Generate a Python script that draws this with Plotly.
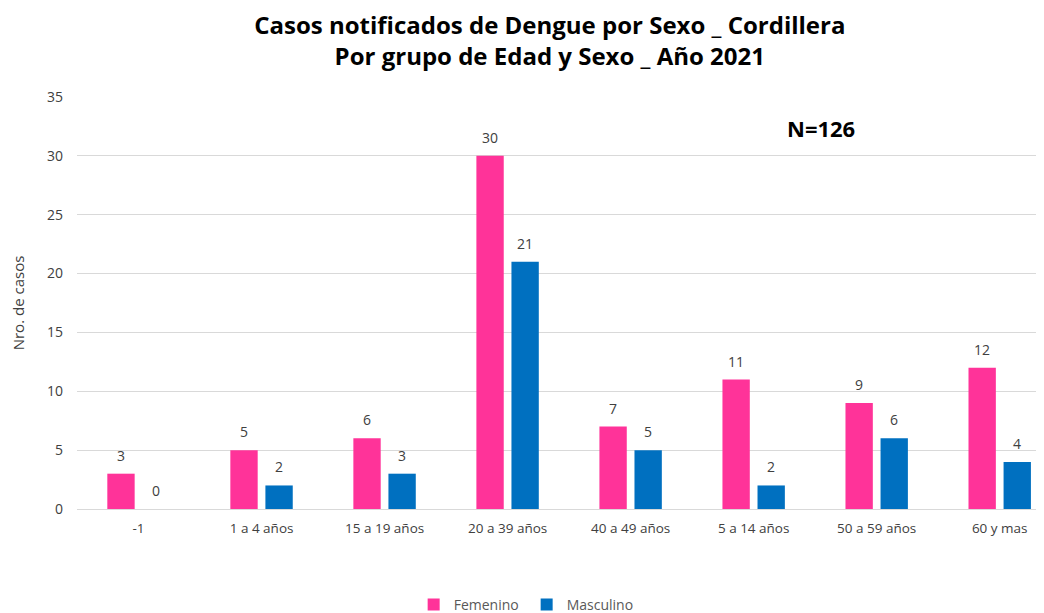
import plotly.graph_objects as go

categories = ["-1", "1 a 4 años", "15 a 19 años", "20 a 39 años", "40 a 49 años",
              "5 a 14 años", "50 a 59 años", "60 y mas"]
femenino = [3, 5, 6, 30, 7, 11, 9, 12]
masculino = [0, 2, 3, 21, 5, 2, 6, 4]

font_family = "Open Sans, Noto Sans, DejaVu Sans, sans-serif"

fig = go.Figure()
fig.add_trace(go.Bar(
    x=categories, y=femenino, name="Femenino",
    marker=dict(color="#FF3399", line=dict(width=0)),
))
fig.add_trace(go.Bar(
    x=categories, y=masculino, name="Masculino",
    marker=dict(color="#0070C0", line=dict(width=0)),
))

annotations = []
for i, (f, m) in enumerate(zip(femenino, masculino)):
    for val, shift in ((f, -17.5), (m, 17.5)):
        annotations.append(dict(
            x=i, y=val, xref="x", yref="y", text=str(val), showarrow=False,
            xshift=shift, yshift=7, yanchor="bottom",
            font=dict(size=14, color="#404040"),
        ))
annotations.append(dict(
    text="<b>N=126</b>", x=5.55, y=32.4, xref="x", yref="y",
    showarrow=False, font=dict(size=22, color="#000000"),
))

fig.update_layout(
    width=1036, height=605,
    paper_bgcolor="white", plot_bgcolor="white",
    font=dict(family=font_family, color="#595959"),
    title=dict(
        text="<b>Casos notificados de Dengue por Sexo _ Cordillera<br>Por grupo de Edad y Sexo _ Año 2021</b>",
        x=0.523, xanchor="center", y=0.957, yanchor="middle",
        font=dict(size=24, color="#000000", family=font_family),
    ),
    margin=dict(l=69, r=0, t=89, b=104, autoexpand=False),
    barmode="group", bargap=0.43, bargroupgap=0.22,
    showlegend=True,
    legend=dict(orientation="h", x=0.465, xanchor="center", y=-0.233, yanchor="middle",
                font=dict(size=14, color="#595959"),
                entrywidth=68, entrywidthmode="pixels", itemwidth=30,
                traceorder="normal"),
    xaxis=dict(
        type="category", range=[-0.5, 7.36], showgrid=False, automargin=False,
        showline=True, linecolor="#D9D9D9", linewidth=1,
        tickfont=dict(size=13.5, color="#404040"), ticks="", ticklabelstandoff=7,
    ),
    yaxis=dict(
        range=[0, 35], dtick=5, showgrid=True, gridcolor="#D9D9D9", gridwidth=1,
        zeroline=False, showline=False, ticks="", automargin=False,
        tickfont=dict(size=14, color="#404040"), ticklabelstandoff=13,
        title=dict(text="Nro. de casos", font=dict(size=15, color="#404040"), standoff=20),
    ),
    annotations=annotations,
)

fig.write_html("out.html")
